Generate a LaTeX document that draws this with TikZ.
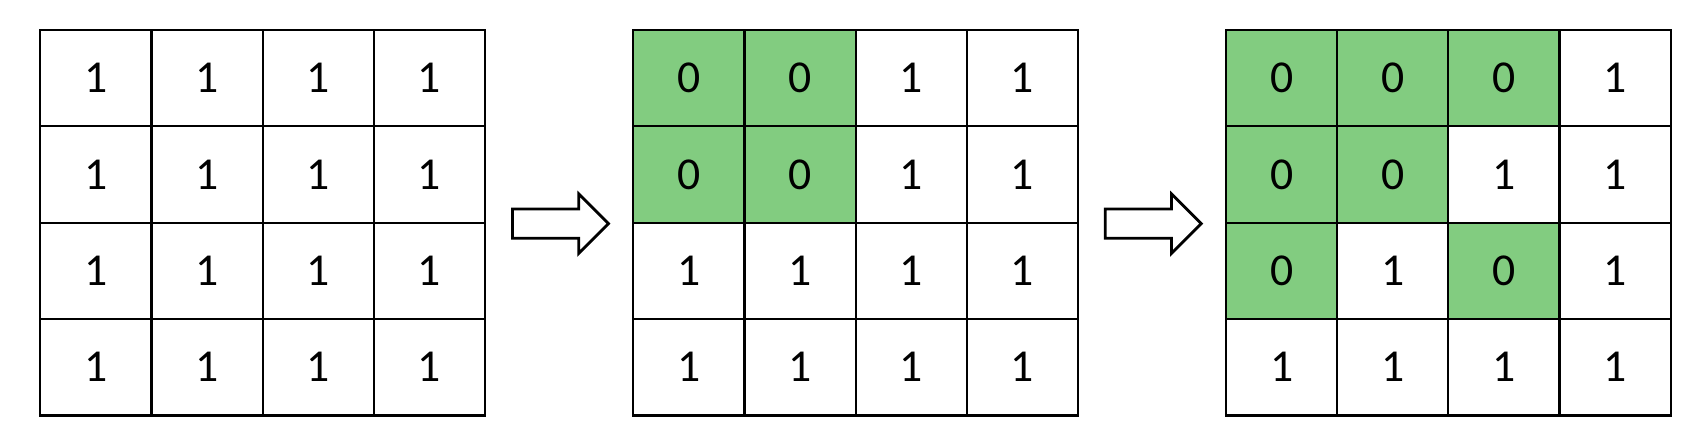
\documentclass[tikz,border=0pt]{standalone}
\usepackage{fontspec}
\setmainfont{Carlito}
\usetikzlibrary{positioning, shapes.arrows, calc}
\definecolor{zerogreen}{RGB}{130,204,128}

\begin{document}
\begin{tikzpicture}[
  x=0.02cm, y=-0.02cm,
  cell/.style  = {rectangle, draw, line width=1.2pt, inner sep=0pt, minimum width=2.223cm, minimum height=1.929cm, font=\fontsize{26}{31}\selectfont},
  c0/.style    = {cell, fill=zerogreen},
  c1/.style    = {cell, fill=white},
  bigarrow/.style = {single arrow, draw, fill=white, line width=1.6pt, inner xsep=0pt, inner ysep=0.265cm, minimum height=1.92cm, single arrow head extend=0.302cm, single arrow head indent=0pt, xshift=-0.12cm},
  ]
  \useasboundingbox (0,0) rectangle (1704,446);

  % Starting grid, all ones
  \foreach \v [count=\k from 0] in {1,1,1,1, 1,1,1,1, 1,1,1,1, 1,1,1,1}
    \node (A\k) at ({40.3+(mod(\k,4)+0.5)*111.15}, {29.7+(div(\k,4)+0.5)*96.45}) [c\v] {\v};

  % After first step
  \foreach \v [count=\k from 0] in {0,0,1,1, 0,0,1,1, 1,1,1,1, 1,1,1,1}
    \node (B\k) at ({633.3+(mod(\k,4)+0.5)*111.15}, {29.7+(div(\k,4)+0.5)*96.45}) [c\v] {\v};

  % After second step
  \foreach \v [count=\k from 0] in {0,0,0,1, 0,0,1,1, 0,1,0,1, 1,1,1,1}
    \node (C\k) at ({1226+(mod(\k,4)+0.5)*111.15}, {29.7+(div(\k,4)+0.5)*96.45}) [c\v] {\v};

  % Arrows between the grids
  \node (arr1) at ($(A7.south east)!0.5!(B4.south west)$) [bigarrow] {};
  \node (arr2) at ($(B7.south east)!0.5!(C4.south west)$) [bigarrow] {};
\end{tikzpicture}
\end{document}
